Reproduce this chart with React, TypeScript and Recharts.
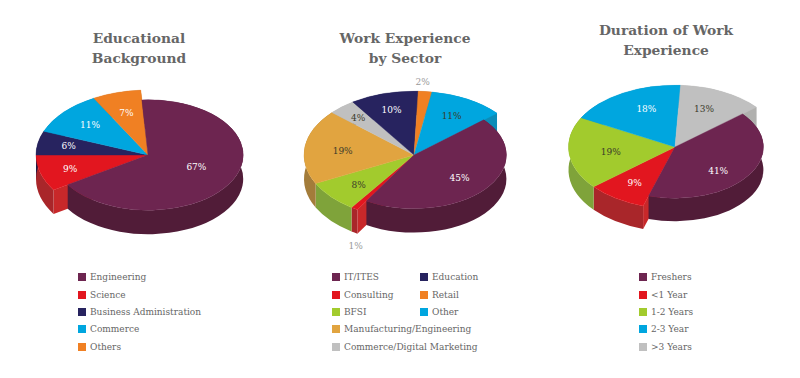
import { PieChart, Pie } from "recharts";

// slices are listed in paint order: maroon comes last so its wall covers the neighbours
const eduNames = ["Science", "Business Administration", "Commerce", "Others", "Engineering"];
const eduValues = [9, 6, 11, 7, 67];
const sectorNames = ["Consulting", "BFSI", "Manufacturing/Engineering", "Commerce/Digital Marketing", "Education", "Retail", "Other", "IT/ITES"];
const sectorValues = [1, 8, 19, 4, 10, 2, 11, 45];
const durationNames = ["<1 Year", "1-2 Years", "2-3 Year", ">3 Years", "Freshers"];
const durationValues = [9, 19, 18, 13, 41];

const MAROON = "#6d2550";
const RED = "#e2161f";
const NAVY = "#27235f";
const BLUE = "#00a6df";
const ORANGE = "#f08023";
const GREEN = "#a2cb2d";
const YELLOW = "#e1a440";
const GRAY = "#c0c0c0";

const wallColors: Record<string, string> = {
  [MAROON]: "#511c38",
  [RED]: "#a9262a",
  [NAVY]: "#1c1a45",
  [BLUE]: "#0b8cb8",
  [ORANGE]: "#b5621d",
  [GREEN]: "#7fa33a",
  [YELLOW]: "#a37c3a",
  [GRAY]: "#b0b0ae",
};
const faceColors: Record<string, string> = { [RED]: "#c8282a" };

const SQUASH = 0.58;
const DEPTH = 24;
const DARK = "#3a3a2a";
const WHITE = "#ffffff";
const MUTED = "#999999";

const panels = [
  {
    key: "edu",
    cx: 148,
    cy: 155,
    radius: 112,
    start: 212.5,
    depth: DEPTH,
    names: eduNames,
    values: eduValues,
    colors: [RED, NAVY, BLUE, ORANGE, MAROON],
    scales: [1, 1, 1, 1, 0.85],
    labelAt: [0.78, 0.72, 0.7, 0.75, 0.57],
    labelNudge: [[6, 0], [0, 0], [1, 0], [2, 5], [0, -2]],
    labelColors: [WHITE, WHITE, WHITE, WHITE, WHITE],
  },
  {
    key: "sector",
    cx: 414,
    cy: 155,
    radius: 110,
    start: 239,
    depth: DEPTH,
    names: sectorNames,
    values: sectorValues,
    colors: [RED, GREEN, YELLOW, GRAY, NAVY, ORANGE, BLUE, MAROON],
    scales: [1, 1, 1, 1, 1, 1, 1, 0.84],
    labelAt: [1.45, 0.68, 0.7, 0.72, 0.72, 1.13, 0.72, 0.6],
    labelNudge: [[28, 13], [1, 2], [5, 2], [-4, -2], [-1, -1], [-4, -1], [-1, 1], [3, 2]],
    labelColors: [MUTED, DARK, DARK, DARK, WHITE, MUTED, DARK, WHITE],
  },
  {
    key: "duration",
    cx: 675,
    cy: 147,
    radius: 106.5,
    start: 252.6,
    depth: 23,
    names: durationNames,
    values: durationValues,
    colors: [RED, GREEN, BLUE, GRAY, MAROON],
    scales: [1, 1, 1, 1, 0.83],
    labelAt: [0.72, 0.7, 0.7, 0.72, 0.6],
    labelNudge: [[2, -1], [10, 0], [8, 0], [-5, 2], [-1, 7]],
    labelColors: [WHITE, DARK, WHITE, DARK, WHITE],
  },
];

const titles = [
  { lines: ["Educational", "Background"], x: 139, y: 29 },
  { lines: ["Work Experience", "by Sector"], x: 405, y: 29 },
  { lines: ["Duration of Work", "Experience"], x: 666, y: 21 },
];

const legendRows = [277, 294.5, 312, 329, 346.5];
const legends = [
  { x: 78, items: [["Engineering", MAROON], ["Science", RED], ["Business Administration", NAVY], ["Commerce", BLUE], ["Others", ORANGE]] },
  { x: 332, items: [["IT/ITES", MAROON], ["Consulting", RED], ["BFSI", GREEN], ["Manufacturing/Engineering", YELLOW], ["Commerce/Digital Marketing", GRAY]] },
  { x: 420, items: [["Education", NAVY], ["Retail", ORANGE], ["Other", BLUE]] },
  { x: 639, items: [["Freshers", MAROON], ["<1 Year", RED], ["1-2 Years", GREEN], ["2-3 Year", BLUE], [">3 Years", GRAY]] },
];

const FONT = "'DejaVu Serif', serif";
const RAD = Math.PI / 180;

const point = (p: any, angle: number, dy = 0) => {
  const rx = p.outerRadius * p.payload.scale;
  return {
    x: p.cx + rx * Math.cos(angle * RAD),
    y: p.cy - rx * SQUASH * Math.sin(angle * RAD) + dy,
  };
};

const arc = (p: any, to: { x: number; y: number }, large: boolean, sweep: number) => {
  const rx = p.outerRadius * p.payload.scale;
  return `A ${rx} ${rx * SQUASH} 0 ${large ? 1 : 0} ${sweep} ${to.x} ${to.y}`;
};

const TopShape = (p: any) => {
  const a = point(p, p.startAngle);
  const b = point(p, p.endAngle);
  const large = Math.abs(p.startAngle - p.endAngle) > 180;
  const d = `M ${p.cx} ${p.cy} L ${a.x} ${a.y} ${arc(p, b, large, 1)} Z`;
  return <path d={d} fill={p.payload.fill} stroke={p.payload.fill} strokeWidth={0.4} />;
};

const RimShape = (p: any) => {
  const depth = p.payload.depth;
  const a = point(p, p.startAngle);
  const b = point(p, p.endAngle);
  const a2 = point(p, p.startAngle, depth);
  const b2 = point(p, p.endAngle, depth);
  const large = Math.abs(p.startAngle - p.endAngle) > 180;
  const d = `M ${a.x} ${a.y} ${arc(p, b, large, 1)} L ${b2.x} ${b2.y} ${arc(p, a2, large, 0)} Z`;
  return <path d={d} fill={p.payload.wall} />;
};

// cut faces only show on the two slices next to the narrower maroon one
const CutShape = (p: any) => {
  const depth = p.payload.depth;
  const angles: number[] = [];
  if (p.payload.cutStart) angles.push(p.startAngle);
  if (p.payload.cutEnd) angles.push(p.endAngle);
  const faces = angles.map((angle) => {
    const e = point(p, angle);
    const e2 = point(p, angle, depth);
    return `M ${p.cx} ${p.cy} L ${e.x} ${e.y} L ${e2.x} ${e2.y} L ${p.cx} ${p.cy + depth} Z`;
  });
  return <path d={faces.join(" ")} fill={p.payload.face} />;
};

const renderLabel = (p: any) => {
  const row = p.payload;
  const rx = p.outerRadius * row.scale;
  const mid = (p.startAngle + p.endAngle) / 2;
  const x = p.cx + rx * row.labelAt * Math.cos(mid * RAD) + row.nudge[0];
  const y = p.cy - rx * SQUASH * row.labelAt * Math.sin(mid * RAD) + row.nudge[1];
  return (
    <text x={x} y={y} fill={row.labelColor} textAnchor="middle" dominantBaseline="central" fontFamily={FONT} fontSize={9}>
      {row.value}%
    </text>
  );
};

const rowsFor = (panel: (typeof panels)[number]) =>
  panel.names.map((name, i) => ({
    name,
    value: panel.values[i],
    fill: panel.colors[i],
    wall: wallColors[panel.colors[i]],
    face: faceColors[panel.colors[i]] ?? wallColors[panel.colors[i]],
    scale: panel.scales[i],
    labelAt: panel.labelAt[i],
    nudge: panel.labelNudge[i],
    labelColor: panel.labelColors[i],
    depth: panel.depth,
    cutStart: i === 0,
    cutEnd: i === panel.names.length - 2,
  }));

const layers = [
  { id: "cut", shape: CutShape, label: false },
  { id: "rim", shape: RimShape, label: false },
  { id: "top", shape: TopShape, label: true },
];

export default function App() {
  return (
    <div style={{ position: "absolute", left: 0, top: 0, width: 800, height: 378, background: "#fff", overflow: "hidden" }}>
      <PieChart width={800} height={378} margin={{ top: 0, right: 0, bottom: 0, left: 0 }}>
        {panels.flatMap((panel) =>
          layers.map((layer) => (
            <Pie
              key={panel.key + layer.id}
              data={rowsFor(panel)}
              dataKey="value"
              nameKey="name"
              cx={panel.cx}
              cy={panel.cy}
              innerRadius={0}
              outerRadius={panel.radius}
              startAngle={panel.start}
              endAngle={panel.start - 360}
              paddingAngle={0}
              stroke="none"
              shape={layer.shape}
              label={layer.label ? renderLabel : false}
              labelLine={false}
              isAnimationActive={false}
            />
          ))
        )}
      </PieChart>
      {titles.map((t) => (
        <div
          key={t.lines[0]}
          style={{
            position: "absolute",
            left: t.x - 110,
            top: t.y,
            width: 220,
            textAlign: "center",
            fontFamily: FONT,
            fontWeight: 700,
            fontSize: 13.8,
            lineHeight: "19.5px",
            color: "#666666",
          }}
        >
          {t.lines.map((line) => (
            <div key={line}>{line}</div>
          ))}
        </div>
      ))}
      {legends.flatMap((legend) =>
        legend.items.map(([name, color], i) => (
          <div key={name + legend.x}>
            <div style={{ position: "absolute", left: legend.x, top: legendRows[i] - 4, width: 8, height: 8, background: color }} />
            <div
              style={{
                position: "absolute",
                left: legend.x + 12,
                top: legendRows[i] - 7,
                fontFamily: FONT,
                fontSize: 9,
                lineHeight: "14px",
                whiteSpace: "nowrap",
                color: "#666666",
              }}
            >
              {name}
            </div>
          </div>
        ))
      )}
    </div>
  );
}
